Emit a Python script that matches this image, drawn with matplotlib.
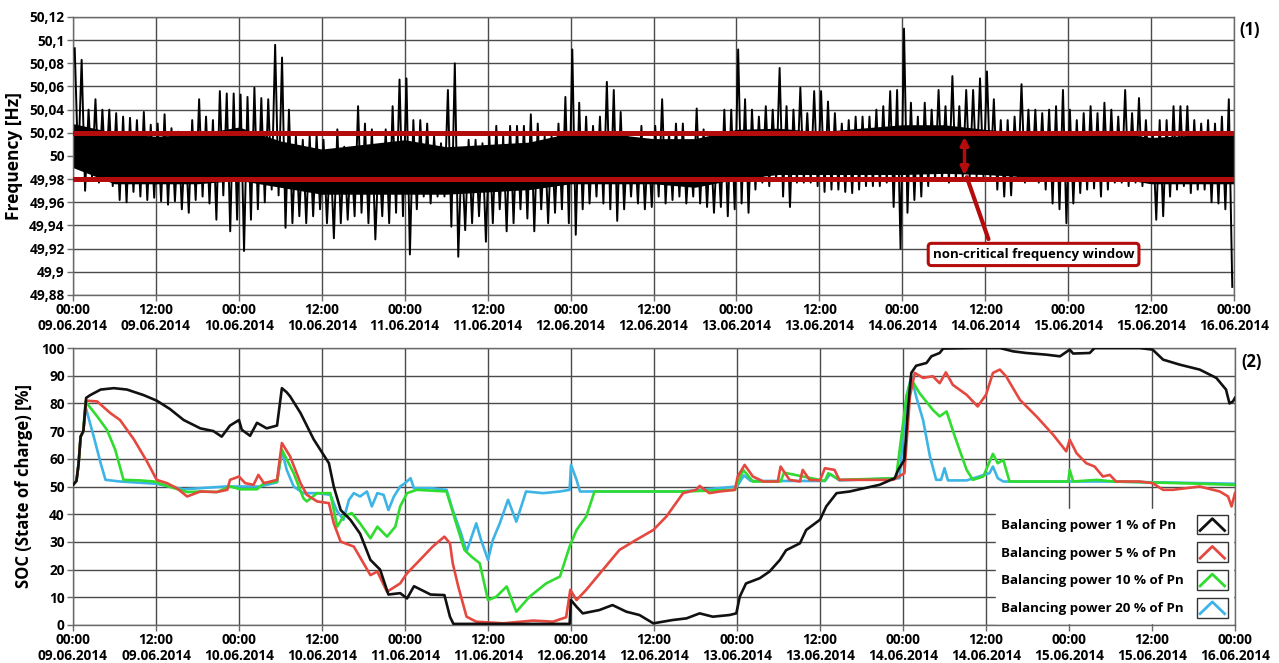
import numpy as np
import matplotlib
matplotlib.use('Agg')
import matplotlib.pyplot as plt
from matplotlib.ticker import FuncFormatter
from matplotlib.legend_handler import HandlerBase
from matplotlib.patches import Rectangle
from matplotlib.lines import Line2D

plt.rcParams['font.family'] = ['Open Sans', 'DejaVu Sans']
plt.rcParams['font.weight'] = 'bold'

# ---- data (time in hours from 09.06.2014 00:00) ----
days = ['09.06.2014', '10.06.2014', '11.06.2014', '12.06.2014',
        '13.06.2014', '14.06.2014', '15.06.2014', '16.06.2014']

# hourly max / min of the grid frequency [Hz]
f_hi = [50.093, 50.083, 50.04, 50.049, 50.04, 50.04, 50.037, 50.034, 50.033, 50.031,
        50.038, 50.027, 50.028, 50.036, 50.024, 50.021, 50.017, 50.031, 50.049, 50.034,
        50.031, 50.056, 50.054, 50.054, 50.053, 50.051, 50.059, 50.05, 50.049, 50.096,
        50.085, 50.04, 50.017, 50.014, 50.017, 50.018, 50.014, 50.005, 50.023, 50.008,
        50.005, 50.043, 50.028, 50.023, 50.005, 50.023, 50.043, 50.066, 50.067, 50.031,
        50.031, 50.028, 50.017, 50.011, 50.057, 50.08, 50.005, 50.014, 50.014, 50.011,
        50.017, 50.026, 50.017, 50.026, 50.026, 50.026, 50.036, 50.028, 50.017, 50.017,
        50.028, 50.051, 50.092, 50.046, 50.034, 50.026, 50.034, 50.064, 50.057, 50.038,
        50.017, 50.014, 50.026, 50.014, 50.026, 50.049, 50.02, 50.028, 50.028, 50.008,
        50.041, 50.023, 50.017, 50.014, 50.04, 50.04, 50.092, 50.049, 50.04, 50.034,
        50.043, 50.04, 50.076, 50.043, 50.04, 50.059, 50.037, 50.056, 50.056, 50.047,
        50.037, 50.028, 50.031, 50.034, 50.034, 50.034, 50.04, 50.043, 50.056, 50.057,
        50.11, 50.046, 50.034, 50.046, 50.04, 50.057, 50.043, 50.069, 50.043, 50.057,
        50.057, 50.067, 50.073, 50.049, 50.031, 50.031, 50.034, 50.062, 50.04, 50.04,
        50.037, 50.04, 50.043, 50.057, 50.04, 50.031, 50.037, 50.043, 50.037, 50.046,
        50.04, 50.034, 50.057, 50.037, 50.05, 50.031, 50.02, 50.031, 50.031, 50.043,
        50.043, 50.043, 50.031, 50.028, 50.031, 50.028, 50.034, 50.049]
f_lo = [49.991, 49.97, 49.982, 49.977, 49.982, 49.974, 49.962, 49.96, 49.969, 49.965,
        49.962, 49.964, 49.961, 49.958, 49.961, 49.954, 49.951, 49.962, 49.965, 49.959,
        49.945, 49.966, 49.935, 49.945, 49.918, 49.945, 49.954, 49.96, 49.971, 49.966,
        49.938, 49.942, 49.948, 49.942, 49.948, 49.954, 49.942, 49.929, 49.942, 49.945,
        49.948, 49.951, 49.942, 49.928, 49.948, 49.942, 49.951, 49.948, 49.915, 49.954,
        49.965, 49.959, 49.965, 49.965, 49.939, 49.913, 49.936, 49.942, 49.948, 49.926,
        49.942, 49.954, 49.935, 49.942, 49.954, 49.946, 49.935, 49.954, 49.942, 49.951,
        49.954, 49.942, 49.932, 49.954, 49.959, 49.965, 49.959, 49.954, 49.944, 49.954,
        49.965, 49.959, 49.954, 49.956, 49.965, 49.959, 49.962, 49.965, 49.959, 49.965,
        49.959, 49.956, 49.951, 49.956, 49.948, 49.954, 49.959, 49.951, 49.971, 49.977,
        49.974, 49.979, 49.965, 49.956, 49.977, 49.977, 49.977, 49.974, 49.969, 49.971,
        49.971, 49.969, 49.968, 49.971, 49.974, 49.974, 49.974, 49.977, 49.956, 49.92,
        49.951, 49.962, 49.965, 49.974, 49.979, 49.979, 49.977, 49.979, 49.982, 49.982,
        49.982, 49.982, 49.982, 49.971, 49.965, 49.966, 49.979, 49.977, 49.979, 49.977,
        49.971, 49.959, 49.954, 49.942, 49.959, 49.968, 49.971, 49.972, 49.965, 49.971,
        49.977, 49.977, 49.974, 49.977, 49.974, 49.977, 49.945, 49.948, 49.965, 49.971,
        49.974, 49.968, 49.971, 49.971, 49.96, 49.959, 49.954, 49.887]

# dense core of the frequency band, every 6 hours
core_h = list(range(0, 169, 6))
core_hi = [50.028, 50.02, 50.017, 50.019, 50.025, 50.013, 50.006, 50.01, 50.014, 50.008,
           50.01, 50.012, 50.02, 50.019, 50.015, 50.015, 50.023, 50.024, 50.021, 50.024,
           50.027, 50.027, 50.023, 50.02, 50.02, 50.021, 50.016, 50.018, 50.02]
core_lo = [49.99, 49.976, 49.976, 49.976, 49.979, 49.973, 49.967, 49.967, 49.967, 49.967,
           49.969, 49.971, 49.976, 49.976, 49.976, 49.973, 49.98, 49.984, 49.984, 49.984,
           49.984, 49.985, 49.984, 49.982, 49.98, 49.982, 49.976, 49.976, 49.976]

window = [49.98, 50.02]

# state of charge [%]
soc1_h = [0, 0.5, 0.8, 1.1, 1.5, 1.9, 2.5, 4, 5.9, 7.8, 10.2, 12.1, 14, 16, 18.4, 20.3, 21.5,
          22.7, 24, 24.4, 25.6, 26.6, 28, 29.5, 30.2, 30.9, 31.4, 32.9, 34.8, 37, 37.7, 38.7,
          40.1, 41.5, 43, 44.4, 45.6, 47.3, 48.3, 49.3, 51.7, 53.7, 54.5, 55, 60, 71.8, 72,
          72.8, 73.7, 76.1, 78, 80, 81.9, 83.9, 86.7, 88.7, 90.6, 92.5, 94.9, 95.9, 96.4,
          97.3, 99.3, 100.7, 102.2, 103.1, 105.1, 106, 108, 108.9, 110.4, 112.3, 113.7,
          116.6, 118.8, 119.3, 120.2, 120.7, 121.2, 121.9, 123.4, 124.1, 125.3, 125.8,
          130.1, 134, 135.9, 137.8, 140.7, 142.7, 144.1, 144.6, 147, 147.7, 154.2, 156.1,
          157.6, 160, 162.9, 165.3, 166.7, 167.2, 167.7, 168]
soc1 = [50.6, 52, 58, 68, 70, 82, 83, 85, 85.5, 85, 83, 81, 78, 74, 71, 70, 68, 72, 74,
        70.5, 68.3, 73, 71, 72, 85.5, 84, 82.5, 76.5, 67, 58.4, 50, 41.5, 38, 33, 23.5, 20,
        11, 11.5, 9.6, 14, 11, 10.8, 3, 0.4, 0.4, 0.4, 9, 6.6, 4.2, 5.4, 7.2, 4.8, 3.6, 0.6,
        1.8, 2.4, 4.2, 3, 3.6, 4.2, 10.2, 15, 16.9, 19.3, 23.5, 27, 29.5, 34.3, 38, 42.8,
        47.6, 48.2, 49, 50.6, 53, 56, 59.6, 77.7, 91, 93.6, 94.6, 97, 98.2, 99.8, 100, 100,
        98.8, 98.2, 97.6, 97, 99.4, 98, 98.2, 100, 100, 99.4, 95.8, 94, 92.2, 89.2, 85, 80,
        80.7, 82]

soc5_h = [0, 0.5, 0.8, 1.1, 1.5, 1.9, 3.5, 5.4, 6.8, 8.8, 10.7, 12.1, 13.6, 15, 16.5, 18.4,
          20.8, 22.3, 22.7, 24, 24.9, 26.1, 26.8, 27.6, 29.5, 30.2, 31.4, 32.9, 33.8, 35.3,
          37, 37.7, 38.7, 40.6, 42, 43, 44, 45.4, 47.3, 48.3, 49.7, 52, 53.7, 54.5, 54.9,
          55.7, 56.9, 58.3, 62.2, 66.5, 69.4, 71.3, 71.9, 72.8, 74.2, 76.6, 79, 81.4, 83.9,
          85.8, 88.2, 90.1, 90.6, 92, 93.5, 95.7, 96.1, 97.1, 98.3, 99.8, 101.9, 102.3,
          103.6, 105.1, 105.5, 106.5, 108, 108.7, 110.1, 110.8, 118.6, 120.2, 121, 121.7,
          122.9, 124.3, 125.3, 126.2, 127.2, 129.2, 130.8, 132, 133, 134, 134.9, 136.9,
          139.3, 141.7, 143.6, 144.1, 145.1, 146.5, 147.7, 148.9, 149.9, 150.8, 154.2,
          156.1, 157.6, 159, 162.9, 165.8, 167, 167.5, 168]
soc5 = [50.6, 52, 58, 68, 70, 81, 80.7, 76.5, 74, 67, 59, 52.4, 51.2, 49.4, 46.4, 48.2,
        48, 48.8, 52.4, 53.6, 51.2, 50.6, 54.2, 51.2, 52.4, 65.7, 60.8, 51.2, 47, 44.6,
        44, 36.7, 30.1, 28.3, 22.3, 18, 19.3, 12, 15, 18.7, 22.3, 28.3, 31.9, 29.5, 22.3,
        13.9, 3, 1.2, 0.6, 1.6, 1.2, 2.8, 12.7, 9, 12.7, 19.9, 27.1, 30.7, 34.3, 39.2,
        47.6, 48.8, 50.2, 47.6, 48.2, 48.8, 53.6, 57.8, 53.6, 51.8, 51.8, 57.2, 52.4,
        51.8, 56, 52.4, 52.2, 56.6, 56, 52.4, 52.4, 54.8, 82.5, 91, 89.2, 89.8, 87.3,
        91.2, 86.7, 83.1, 78.9, 83.1, 91, 92.2, 89.8, 81.3, 75.3, 68.7, 62.7, 66.9, 62,
        58.4, 57.2, 53.6, 54.2, 51.8, 51.8, 51.2, 48.8, 48.8, 50, 48.2, 46.4, 42.8, 47.6]

soc10_h = [0, 0.5, 0.8, 1.1, 1.5, 1.8, 3.5, 4.9, 6.1, 7.3, 9.7, 11.7, 13.1, 14.6, 16.5,
           18.4, 20.8, 22.7, 24.2, 26.6, 27.6, 29.5, 30.2, 31.9, 33.3, 33.8, 35.3, 37.2,
           38.2, 39.1, 40.3, 41.5, 43, 44, 45.4, 46.6, 47.3, 48.3, 49.7, 54, 55.4, 56.6,
           57.6, 58.8, 60, 61.2, 62.7, 64.1, 66, 68.4, 70.4, 71.8, 72.8, 74.2, 75.4, 79,
           83.9, 88.2, 95.7, 96.9, 98.3, 102.3, 102.8, 108.7, 109.2, 110.8, 119, 120.5,
           121.2, 122.4, 124.3, 125.3, 126.3, 127.5, 129.2, 130.1, 131.6, 133, 133.7,
           134.5, 135.4, 139.8, 143.9, 144.1, 144.6, 148, 150.4, 160, 168]
soc10 = [50.6, 52, 58, 68, 70, 80.7, 75.3, 70.5, 63.3, 52.4, 52.2, 51.8, 50.6, 49.4, 48,
         48.2, 48, 50, 49, 49, 51.2, 51.8, 63.3, 54.8, 45.8, 44.6, 47.6, 47.6, 35.5, 39.2,
         40.4, 36.7, 31.3, 35.5, 31.9, 35.5, 42.8, 47.6, 48.8, 48.2, 36.7, 27.1, 24.7,
         22.3, 9, 10.2, 13.9, 4.8, 10.2, 15, 17.5, 28.3, 34.3, 39.2, 48.2, 48.2, 48.2,
         48.2, 48.8, 56, 51.8, 51.8, 55, 52, 54.8, 52.4, 53, 82.5, 88.6, 83.7, 77.7, 75.3,
         77.1, 68, 56, 52.4, 53.6, 61.8, 58.4, 59.6, 51.8, 51.8, 51.8, 56, 51.8, 52.4,
         51.8, 51.2, 50.6]

soc20_h = [0, 0.5, 0.8, 1.1, 1.5, 1.8, 3, 4, 4.7, 6.8, 12, 16, 22, 24, 27, 29.5, 30.2,
           30.9, 31.9, 33.3, 35.3, 37.2, 38.2, 39.1, 39.9, 40.6, 41.5, 42.5, 43.2, 44,
           44.9, 45.6, 46.4, 47.3, 48, 48.8, 49.3, 51.7, 54, 54.9, 56.1, 56.9, 58.3, 59,
           60, 60.7, 61.7, 62.9, 64.1, 65.5, 68, 70.4, 71.8, 72, 72.8, 73.3, 75.4, 88, 96,
           97, 98, 108.7, 109.5, 110.8, 119.5, 120.5, 121.2, 121.9, 122.9, 123.9, 124.8,
           125.5, 126, 126.5, 129.2, 132.5, 133, 133.7, 134.5, 150, 168]
soc20 = [50.6, 52, 58, 68, 70, 78.9, 68, 58.4, 52.4, 51.8, 51, 49, 50, 50, 50, 51.5, 63,
         56, 50, 47.6, 47.6, 47, 41, 38, 45.2, 47.6, 46.4, 48.2, 42.8, 47.6, 47, 41.5,
         46.4, 50, 51.2, 53, 49.4, 49.4, 48.8, 41.5, 33.1, 26.5, 36.7, 30.7, 23.5, 30.7,
         36.7, 45.2, 37.3, 48.2, 47.6, 48.2, 48.8, 57.8, 52.4, 48.2, 48.2, 48.2, 50, 54,
         52, 52, 54.5, 52.2, 53, 82.5, 89.8, 82.5, 74, 60.8, 52.4, 52.4, 56.6, 52.2, 52.2,
         54.8, 57.2, 53, 51.8, 51.8, 51]

# figure space (U+2007) pads the one-digit labels so the texts line up on the left
legend_labels = ['Balancing power 1 % of Pn\u2007', 'Balancing power 5 % of Pn\u2007',
                 'Balancing power 10 % of Pn', 'Balancing power 20 % of Pn']

# ---- styles ----
c_black = '#111111'
c_red = '#e5483f'
c_green = '#2fdc2f'
c_blue = '#3db4e6'
c_win = '#b40c0c'
grid_c = '#4a4a4a'


class ChevronHandler(HandlerBase):
    # legend icon: small framed box with a "^" shaped line
    def create_artists(self, legend, orig_handle, xdescent, ydescent, width, height,
                       fontsize, trans):
        x0, y0 = -xdescent, -ydescent
        box = Rectangle((x0, y0), width, height, facecolor='white', edgecolor='#333333',
                        lw=1.0, transform=trans)
        ln = Line2D([x0 + 0.1 * width, x0 + 0.5 * width, x0 + 0.9 * width],
                    [y0 + 0.2 * height, y0 + 0.8 * height, y0 + 0.2 * height],
                    color=orig_handle.get_color(), lw=2.0, transform=trans)
        return [box, ln]


def style_axes(ax):
    ax.set_xlim(0, 168)
    ax.set_xticks(np.arange(0, 169, 12))
    labels = []
    for i in range(15):
        d = days[i // 2]
        labels.append(('00:00' if i % 2 == 0 else '12:00') + '\n' + d)
    ax.set_xticklabels(labels, fontsize=9.8, fontweight='bold', linespacing=1.15)
    ax.grid(True, color=grid_c, lw=1.0)
    ax.set_axisbelow(True)
    for s in ax.spines.values():
        s.set_color('#6a6a6a')
        s.set_linewidth(1.0)
    ax.tick_params(axis='both', direction='out', length=4, width=1, color='#6a6a6a',
                   labelsize=9.8, pad=2)
    for t in ax.get_yticklabels():
        t.set_fontweight('bold')


fig = plt.figure(figsize=(12.79, 6.63), dpi=100)
ax1 = fig.add_axes([73 / 1279, 1 - 295 / 663, 1161 / 1279, 278 / 663])
ax2 = fig.add_axes([73 / 1279, 1 - 625 / 663, 1162 / 1279, 277 / 663])

# ---- (1) frequency ----
hours = np.arange(len(f_hi))
zx = np.column_stack([hours + 0.25, hours + 0.75]).ravel()
zy = np.column_stack([f_hi, f_lo]).ravel()
ax1.fill_between(core_h, core_lo, core_hi, color='black', lw=0, zorder=2)
ax1.plot(zx, zy, color='black', lw=1.4, zorder=3)
for w in window:
    ax1.axhline(w, color=c_win, lw=3.6, zorder=4)

ax1.set_ylim(49.88, 50.12)
ax1.set_yticks(np.arange(49.88, 50.1201, 0.02))
ax1.yaxis.set_major_formatter(FuncFormatter(
    lambda v, p: f'{v:.2f}'.rstrip('0').rstrip('.').replace('.', ',')))
style_axes(ax1)
ax1.set_ylabel('Frequency [Hz]', fontsize=12.5, fontweight='bold')
ax1.yaxis.set_label_coords(-0.043, 0.5)

ax1.annotate('', xy=(129.0, window[1] - 0.001), xytext=(129.0, window[0] + 0.001),
             arrowprops=dict(arrowstyle='<|-|>', color=c_win, lw=2.5, mutation_scale=12),
             zorder=6)
ax1.annotate('', xy=(129.2, 49.984), xytext=(132.6, 49.926),
             arrowprops=dict(arrowstyle='-', color=c_win, lw=3), zorder=6)
ax1.text(139.0, 49.915, 'non-critical frequency window', fontsize=9.5, fontweight='bold',
         ha='center', va='center', zorder=7,
         bbox=dict(boxstyle='round,pad=0.35,rounding_size=0.25', fc='white', ec=c_win,
                   lw=2.2))
fig.text(1250 / 1279, 1 - 30 / 663, '(1)', fontsize=12, fontweight='bold',
         ha='center', va='center')

# ---- (2) state of charge ----
l20, = ax2.plot(soc20_h, soc20, color=c_blue, lw=1.9, zorder=3)
l10, = ax2.plot(soc10_h, soc10, color=c_green, lw=1.9, zorder=4)
l5, = ax2.plot(soc5_h, soc5, color=c_red, lw=1.9, zorder=5)
l1, = ax2.plot(soc1_h, soc1, color=c_black, lw=1.9, zorder=6)

ax2.set_ylim(0, 100)
ax2.set_yticks(np.arange(0, 101, 10))
style_axes(ax2)
ax2.set_ylabel('SOC (State of charge) [%]', fontsize=12, fontweight='bold')
ax2.yaxis.set_label_coords(-0.0344, 0.5)

leg = ax2.legend([l1, l5, l10, l20], legend_labels, handler_map={Line2D: ChevronHandler()},
                 markerfirst=False, loc='lower right', frameon=True, framealpha=1,
                 fancybox=False, edgecolor='white', handlelength=2.3, handleheight=1.9,
                 labelspacing=0.6, handletextpad=1.0, borderpad=0.4, borderaxespad=0.15,
                 prop={'size': 9.6, 'weight': 'bold'})
leg.set_zorder(10)
fig.text(1252 / 1279, 1 - 362 / 663, '(2)', fontsize=12, fontweight='bold',
         ha='center', va='center')

fig.savefig('out.png', dpi=100, facecolor='white')
